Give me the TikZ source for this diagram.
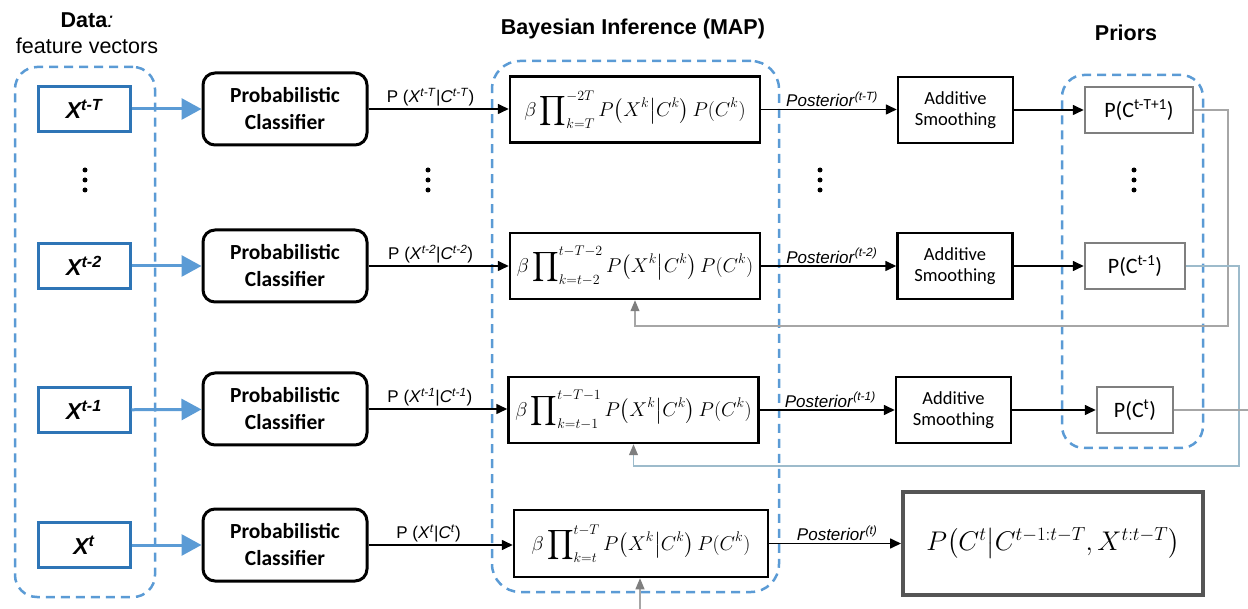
\RequirePackage{fix-cm}
\documentclass[tikz,border=0pt]{standalone}
\usepackage{exscale}
\usepackage{fontspec}
\setmainfont{Liberation Sans}
\newfontfamily\carlito{Carlito}
\usetikzlibrary{arrows.meta}
\definecolor{dashblue}{HTML}{5B9BD5}
\definecolor{xblue}{HTML}{2E75B6}
\definecolor{arrblue}{HTML}{5B9BD5}
\definecolor{fbgray}{HTML}{A6A6A6}
\definecolor{fbblue}{HTML}{9DBBCB}
\definecolor{priorgray}{HTML}{7F7F7F}
\definecolor{finalgray}{HTML}{555555}
\newcommand{\supit}[2]{\textit{#1}\textsuperscript{\textit{#2}}}
\begin{document}
\begin{tikzpicture}[x=1pt,y=-1pt,
  container/.style={draw=dashblue, line width=2.5pt, dash pattern=on 9pt off 6pt, rounded corners=22pt, inner sep=0pt},
  xbox/.style={draw=xblue, line width=3pt, minimum width=92, minimum height=45, inner sep=0pt, font=\fontsize{23}{26}\selectfont\bfseries\itshape},
  clsbox/.style={draw, line width=3pt, rounded corners=12pt, minimum width=164, minimum height=72, align=center, inner sep=0pt, font=\carlito\fontsize{21.5}{27}\selectfont\bfseries},
  baybox/.style={draw, line width=2.5pt, minimum width=250, minimum height=66, inner sep=0pt, font=\fontsize{20}{24}\selectfont},
  addbox/.style={draw, line width=2.5pt, minimum width=115, minimum height=66, align=center, inner sep=0pt, font=\carlito\fontsize{18.5}{21}\selectfont},
  priorbox/.style={draw=priorgray, line width=2.5pt, minimum height=46, inner sep=0pt, font=\carlito\fontsize{22}{26}\selectfont},
  finalbox/.style={draw=finalgray, line width=4pt, minimum width=300, minimum height=103, inner sep=0pt, font=\fontsize{27}{32}\selectfont},
  title/.style={align=center, font=\fontsize{21.5}{26}\selectfont},
  bluearr/.style={draw=arrblue, line width=3pt, -{Triangle[length=20pt,width=21pt]}},
  blkarr/.style={draw=black, line width=1.6pt, -{Triangle[length=11pt,width=10pt]}},
  fbline/.style={draw=fbgray, line width=1.1pt},
  fbarr/.style={draw=fbgray, line width=1.1pt, -{Triangle[length=11pt,width=9pt,color=priorgray]}},
  lbl/.style={anchor=south, inner sep=2pt, font=\fontsize{17}{20}\selectfont},
  dot/.style={fill=black, circle, inner sep=0pt, minimum size=5pt}
]
\useasboundingbox (0,0) rectangle (1248,609);

% titles
\node[title] (tdata) at (87,33) {\textbf{Data}\textit{:}\\feature vectors};
\node[title, font=\fontsize{21.5}{26}\selectfont\bfseries] (tbay) at (633,29) {Bayesian Inference (MAP)};
\node[title, font=\fontsize{21.5}{26}\selectfont\bfseries] (tpri) at (1126,33) {Priors};

% dashed containers
\node[container, minimum width=140, minimum height=530] (gdata) at (85,332) {};
\node[container, minimum width=287, minimum height=531, rounded corners=28pt] (gbay) at (635.5,326.5) {};
\node[container, minimum width=141, minimum height=373] (gpri) at (1132.5,261.5) {};

% data boxes
\node[xbox] (x1) at (84,109) {X\textsuperscript{t-T}};
\node[xbox] (x2) at (84,266) {X\textsuperscript{t-2}};
\node[xbox] (x3) at (84,410) {X\textsuperscript{t-1}};
\node[xbox] (x4) at (84,545) {X\textsuperscript{t}};

% classifiers
\node[clsbox] (c1) at (285,109) {Probabilistic\\Classifier};
\node[clsbox] (c2) at (285,266) {Probabilistic\\Classifier};
\node[clsbox] (c3) at (285,409) {Probabilistic\\Classifier};
\node[clsbox] (c4) at (285,545) {Probabilistic\\Classifier};

% Bayesian boxes
\node[baybox] (b1) at (635,109.5) {$\beta \displaystyle\prod\nolimits_{k=T}^{-2T} P\bigl(X^k\big|C^k\bigr)\,P(C^k)$};
\node[baybox] (b2) at (635,266) {$\beta \displaystyle\prod\nolimits_{k=t-2}^{t-T-2} P\bigl(X^k\big|C^k\bigr)\,P(C^k)$};
\node[baybox] (b3) at (633.5,410) {$\beta \displaystyle\prod\nolimits_{k=t-1}^{t-T-1} P\bigl(X^k\big|C^k\bigr)\,P(C^k)$};
\node[baybox, minimum width=254, minimum height=67] (b4) at (641,543.5) {$\beta \displaystyle\prod\nolimits_{k=t}^{t-T} P\bigl(X^k\big|C^k\bigr)\,P(C^k)$};

% additive smoothing
\node[addbox] (a1) at (955.5,110) {Additive\\Smoothing};
\node[addbox] (a2) at (955,266) {Additive\\Smoothing};
\node[addbox] (a3) at (953.5,410) {Additive\\Smoothing};

% priors
\node[priorbox, minimum width=108] (p1) at (1139,110) {P(C\textsuperscript{t-T+1})};
\node[priorbox, minimum width=100] (p2) at (1135,266) {P(C\textsuperscript{t-1})};
\node[priorbox, minimum width=76] (p3) at (1135,410) {P(C\textsuperscript{t})};

% final
\node[finalbox] (fin) at (1053,543.5) {$P\bigl(C^t\big|C^{t-1:t-T},X^{t:t-T}\bigr)$};

% dots
\foreach \xx in {85,428,820,1134}{
  \node[dot] at (\xx,170) {};
  \node[dot] at (\xx,180) {};
  \node[dot] at (\xx,190) {};
}

% blue arrows
\draw[bluearr] (x1) -- (c1);
\draw[bluearr] (x2) -- (c2);
\draw[bluearr] (x3) -- (c3);
\draw[bluearr] (x4) -- (c4);

% classifier -> bayes
\draw[blkarr] (c1.east) -- (b1.west |- c1.east) node[lbl, midway, xshift=-8pt] {P (\supit{X}{t-T}|\supit{C}{t-T})};
\draw[blkarr] (c2.east) -- (b2.west |- c2.east) node[lbl, midway, xshift=-8pt] {P (\supit{X}{t-2}|\supit{C}{t-2})};
\draw[blkarr] (c3.east) -- (b3.west |- c3.east) node[lbl, midway, xshift=-8pt] {P (\supit{X}{t-1}|\supit{C}{t-1})};
\draw[blkarr] (c4.east) -- (b4.west |- c4.east) node[lbl, midway, xshift=-12pt] {P (\supit{X}{t}|\supit{C}{t})};

% bayes -> additive / final
\draw[blkarr] (b1.east) -- (a1.west |- b1.east) node[lbl, midway, xshift=3pt] {\supit{Posterior}{(t-T)}};
\draw[blkarr] (b2.east) -- (a2.west) node[lbl, midway, xshift=3pt] {\supit{Posterior}{(t-2)}};
\draw[blkarr] (b3.east) -- (a3.west) node[lbl, midway, xshift=3pt] {\supit{Posterior}{(t-1)}};
\draw[blkarr] (b4.east) -- (fin.west |- b4.east) node[lbl, midway, xshift=2pt] {\supit{Posterior}{(t)}};

% additive -> priors
\draw[blkarr] (a1.east) -- (p1.west |- a1.east);
\draw[blkarr] (a2.east) -- (p2.west);
\draw[blkarr] (a3.east) -- (p3.west |- a3.east);

% feedback
\coordinate (f1) at (1228,326);
\coordinate (f2) at (1239,466);
\coordinate (f3) at (1248,410);
\coordinate (f4) at (640,609);
\draw[fbarr] (p1.east) -| (f1) -| (b2.south);
\draw[fbarr, draw=fbblue] (p2.east) -| (f2) -| (b3.south);
\draw[fbline] (p3.east) -- (f3);
\draw[fbarr] (f4) -- (f4 |- b4.south);
\end{tikzpicture}
\end{document}
